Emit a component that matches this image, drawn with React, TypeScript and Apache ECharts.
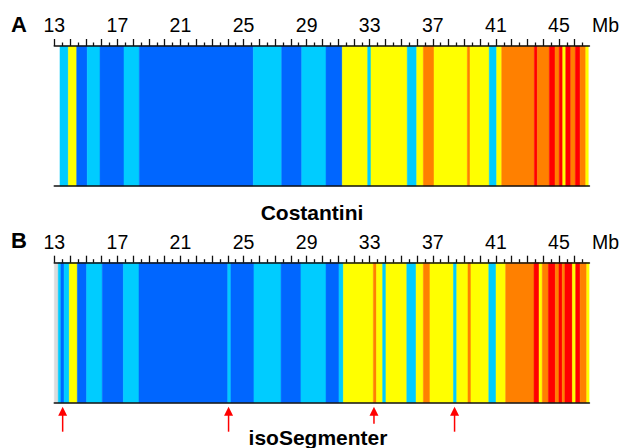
import React, { useEffect, useRef } from "react";
import * as echarts from "echarts";

// Isochore class colours
const classNames = ["L1", "L2", "H1", "H2", "H3", "N"];
const classColors = ["#0066FF", "#00CCFF", "#FFFF00", "#FF8000", "#FF0000", "#DCDCDC"];

// Panel A — Costantini segmentation (Mb boundaries, classes between them)
const costantiniBounds = [
  13.36, 13.89, 14.42, 15.09, 15.9, 17.42, 18.39, 25.62, 27.42, 28.69, 30.23,
  31.26, 32.87, 33.08, 35.38, 35.98, 36.4, 37.08, 39.19, 39.36, 40.58, 41.05,
  41.37, 43.44, 43.63, 44.39, 44.75, 45.02, 45.24, 45.43, 45.75, 46.04, 46.34,
  46.7, 46.86,
];
const costantiniClasses = [
  "L2", "H1", "L1", "L2", "L1", "L2", "L1", "L2", "L1", "L2", "L1", "H1",
  "L2", "H1", "L2", "H1", "H2", "H1", "H2", "H1", "L2", "H1", "H2", "H3",
  "H2", "H3", "H2", "H3", "H1", "H3", "H2", "H3", "H2", "H1",
];

// Panel B — isoSegmenter segmentation
const isoSegBounds = [
  13.0, 13.25, 13.42, 13.62, 13.95, 14.46, 15.05, 16.04, 17.38, 18.37, 24.0,
  24.2, 25.66, 27.38, 28.64, 30.23, 31.05, 31.33, 33.23, 33.43, 33.82, 34.03,
  35.35, 35.94, 36.4, 36.82, 38.31, 38.52, 39.23, 39.42, 40.55, 41.01, 41.62,
  43.42, 43.74, 43.94, 44.33, 44.77, 45.0, 45.21, 45.38, 45.85, 46.06, 46.34,
  46.76, 46.91,
];
const isoSegClasses = [
  "N", "L2", "L1", "L2", "H1", "L1", "L2", "L1", "L2", "L1", "L2", "L1",
  "L2", "L1", "L2", "L1", "L2", "H1", "H2", "H1", "L2", "H1", "L2", "H1",
  "H2", "H1", "L2", "H1", "H2", "H1", "L2", "H1", "H2", "H3", "H1", "H2",
  "H3", "H2", "H3", "H2", "H3", "H1", "H3", "H2", "H1",
];

// Arrow positions (Mb) marking differences in panel B
const arrowPositions = [13.53, 24.05, 33.27, 38.38];

// Axis ticks
const axisMin = 13;
const axisMax = 46.93;
const majorTicks = Array.from({ length: 34 }, (_, i) => 13 + i);
const tickLabels = [13, 17, 21, 25, 29, 33, 37, 41, 45];

const FONT = "'Liberation Sans', Arial, sans-serif";

function buildSegments(bounds: number[], classes: string[]) {
  return classes.map((c, i) => [bounds[i], bounds[i + 1], classNames.indexOf(c)]);
}

export default function App() {
  const ref = useRef<HTMLDivElement>(null);

  useEffect(() => {
    if (!ref.current) return;
    const chart = echarts.init(ref.current, undefined, { renderer: "svg" });

    const gridBase = { left: 54.3, width: 535.1, height: 140 };

    const topAxis = (gridIndex: number) => ({
      type: "value",
      gridIndex,
      position: "top",
      min: axisMin,
      max: axisMax,
      interval: 1,
      z: 5,
      axisLine: { show: true, onZero: false, lineStyle: { color: "#111", width: 1.6 } },
      axisTick: {
        show: true,
        customValues: majorTicks,
        length: 7,
        lineStyle: { color: "#111", width: 1.3 },
      },
      minorTick: {
        show: true,
        splitNumber: 2,
        length: 3.5,
        lineStyle: { color: "#111", width: 1.3 },
      },
      axisLabel: {
        show: true,
        customValues: tickLabels,
        fontSize: 19.5,
        fontFamily: FONT,
        color: "#000",
        margin: 11,
      },
      splitLine: { show: false },
      minorSplitLine: { show: false },
    });

    const bottomAxis = (gridIndex: number) => ({
      type: "value",
      gridIndex,
      position: "bottom",
      min: axisMin,
      max: axisMax,
      z: 5,
      axisLine: { show: true, onZero: false, lineStyle: { color: "#111", width: 1.6 } },
      axisTick: { show: false },
      axisLabel: { show: false },
      splitLine: { show: false },
    });

    const segRender = (params: any, api: any) => {
      const s = api.coord([api.value(0), 0]);
      const e = api.coord([api.value(1), 1]);
      const col = classColors[Number(api.value(2))] || "#ccc";
      return {
        type: "rect",
        shape: { x: s[0], y: e[1], width: e[0] - s[0], height: s[1] - e[1] },
        style: { fill: col, stroke: col, lineWidth: 0.5 },
      };
    };

    const arrowRender = (params: any, api: any) => {
      const p = api.coord([api.value(0), 0]);
      const x = p[0];
      const y = p[1];
      const tail = x > 240 && x < 400 ? 21 : 29;
      return {
        type: "group",
        children: [
          {
            type: "polygon",
            shape: {
              points: [
                [x, y + 4],
                [x - 4.5, y + 13],
                [x + 4.5, y + 13],
              ],
            },
            style: { fill: "#FF0000" },
          },
          {
            type: "line",
            shape: { x1: x, y1: y + 12, x2: x, y2: y + tail },
            style: { stroke: "#FF0000", lineWidth: 1.5 },
          },
        ],
      };
    };

    chart.setOption({
      animation: false,
      backgroundColor: "#fff",
      grid: [
        { ...gridBase, top: 46 },
        { ...gridBase, top: 262.7 },
      ],
      xAxis: [topAxis(0), bottomAxis(0), topAxis(1), bottomAxis(1)],
      yAxis: [
        { type: "value", gridIndex: 0, min: 0, max: 1, show: false },
        { type: "value", gridIndex: 1, min: 0, max: 1, show: false },
      ],
      series: [
        {
          type: "custom",
          xAxisIndex: 0,
          yAxisIndex: 0,
          z: 1,
          renderItem: segRender,
          encode: { x: [0, 1] },
          data: buildSegments(costantiniBounds, costantiniClasses),
        },
        {
          type: "custom",
          xAxisIndex: 2,
          yAxisIndex: 1,
          z: 1,
          renderItem: segRender,
          encode: { x: [0, 1] },
          data: buildSegments(isoSegBounds, isoSegClasses),
        },
        {
          type: "custom",
          xAxisIndex: 2,
          yAxisIndex: 1,
          z: 6,
          clip: false,
          renderItem: arrowRender,
          encode: { x: 0 },
          data: arrowPositions.map((v) => [v]),
        },
      ],
      graphic: [
        {
          type: "text",
          left: 11,
          top: 13,
          style: { text: "A", font: `bold 22px ${FONT}`, fill: "#000" },
        },
        {
          type: "text",
          left: 11,
          top: 229,
          style: { text: "B", font: `bold 22px ${FONT}`, fill: "#000" },
        },
        {
          type: "text",
          left: 592,
          top: 15,
          style: { text: "Mb", font: `19.5px ${FONT}`, fill: "#000" },
        },
        {
          type: "text",
          left: 592,
          top: 231.5,
          style: { text: "Mb", font: `19.5px ${FONT}`, fill: "#000" },
        },
        {
          type: "text",
          x: 312,
          y: 212,
          style: {
            text: "Costantini",
            font: `bold 21px ${FONT}`,
            fill: "#000",
            align: "center",
            verticalAlign: "middle",
          },
        },
        {
          type: "text",
          x: 318,
          y: 437,
          style: {
            text: "isoSegmenter",
            font: `bold 21px ${FONT}`,
            fill: "#000",
            align: "center",
            verticalAlign: "middle",
          },
        },
      ],
    });

    return () => chart.dispose();
  }, []);

  return (
    <div
      ref={ref}
      style={{ position: "fixed", left: 0, top: 0, width: 622, height: 448, background: "#fff" }}
    />
  );
}
